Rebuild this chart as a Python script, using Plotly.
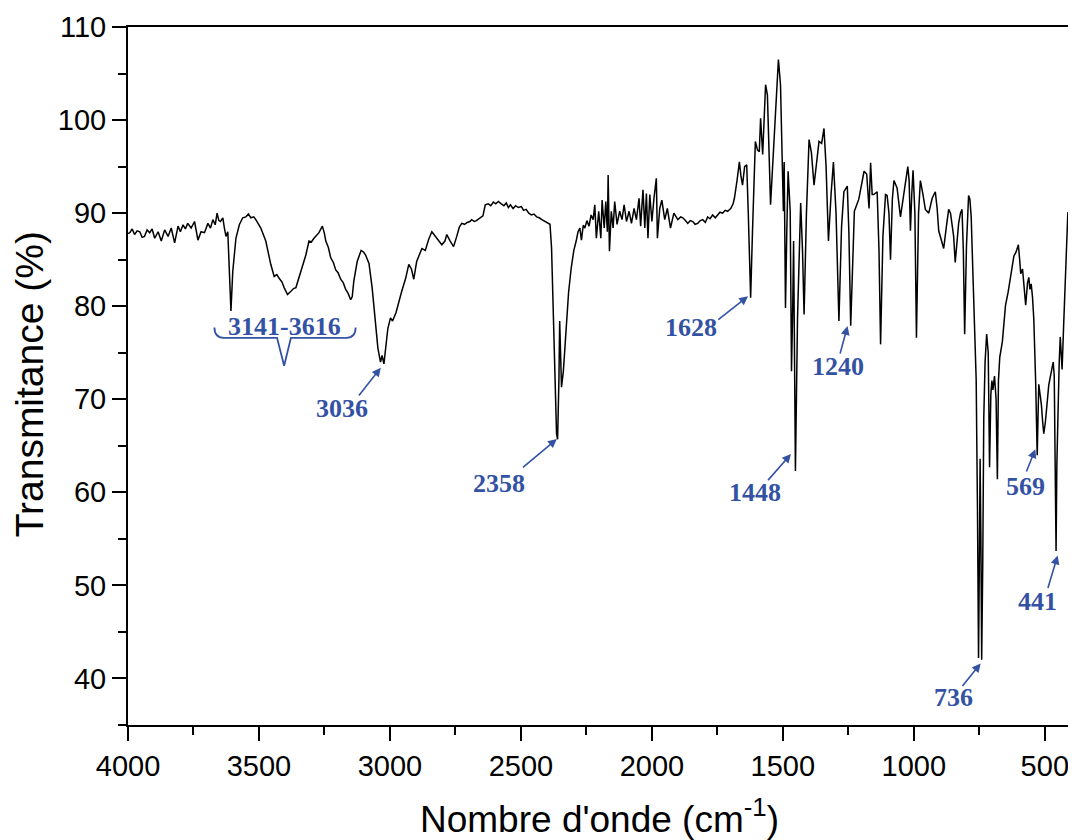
import plotly.graph_objects as go

# ---------------- data ----------------
wavenumber = [
    4000, 3993, 3984, 3975, 3965, 3955, 3946, 3937, 3927, 3917,
    3908, 3898, 3885, 3873, 3860, 3847, 3835, 3822, 3809, 3800,
    3790, 3781, 3772, 3759, 3746, 3733, 3721, 3708, 3695, 3685,
    3676, 3667, 3660, 3653, 3647, 3638, 3632, 3626, 3619, 3613,
    3607, 3600, 3588, 3575, 3562, 3550, 3540, 3531, 3520, 3512,
    3502, 3493, 3474, 3455, 3442, 3432, 3423, 3412, 3404, 3391,
    3378, 3368, 3359, 3350, 3340, 3330, 3321, 3309, 3300, 3290,
    3281, 3271, 3258, 3250, 3245, 3235, 3226, 3216, 3207, 3198,
    3188, 3178, 3169, 3160, 3150, 3144, 3138, 3125, 3110, 3100,
    3093, 3080, 3068, 3055, 3046, 3036, 3030, 3023, 3016, 3008,
    2998, 2990, 2977, 2966, 2955, 2940, 2928, 2918, 2909, 2898,
    2888, 2878, 2865, 2852, 2840, 2830, 2821, 2810, 2802, 2790,
    2783, 2770, 2757, 2745, 2735, 2726, 2715, 2705, 2695, 2688,
    2678, 2670, 2655, 2645, 2636, 2625, 2615, 2605, 2596, 2586,
    2575, 2565, 2556, 2548, 2540, 2530, 2520, 2510, 2498, 2490,
    2480, 2470, 2460, 2450, 2440, 2430, 2420, 2408, 2395, 2389,
    2383, 2376, 2370, 2364, 2360, 2357, 2355, 2352, 2348, 2345,
    2338, 2327, 2318, 2308, 2298, 2289, 2282, 2275, 2269, 2262,
    2256, 2248, 2240, 2232, 2224, 2218, 2212, 2203, 2195, 2190,
    2182, 2176, 2170, 2167, 2162, 2155, 2148, 2142, 2133, 2123,
    2114, 2106, 2097, 2087, 2078, 2068, 2059, 2049, 2043, 2034,
    2027, 2021, 2015, 2008, 2000, 1992, 1983, 1979, 1970, 1962,
    1951, 1941, 1929, 1916, 1901, 1890, 1882, 1872, 1863, 1853,
    1844, 1835, 1825, 1815, 1806, 1796, 1787, 1778, 1768, 1758,
    1749, 1740, 1730, 1720, 1711, 1699, 1690, 1685, 1675, 1666,
    1660, 1654, 1646, 1638, 1632, 1623, 1616, 1609, 1605, 1597,
    1590, 1585, 1577, 1566, 1563, 1559, 1547, 1540, 1533, 1525,
    1517, 1509, 1502, 1498, 1495, 1490, 1485, 1480, 1472, 1467,
    1462, 1459, 1452, 1444, 1432, 1425, 1419, 1410, 1400, 1391,
    1381, 1370, 1362, 1352, 1343, 1335, 1326, 1316, 1307, 1297,
    1286, 1276, 1267, 1254, 1248, 1241, 1234, 1227, 1210, 1200,
    1190, 1180, 1171, 1165, 1159, 1153, 1140, 1133, 1127, 1118,
    1108, 1102, 1095, 1089, 1082, 1076, 1064, 1051, 1038, 1023,
    1018, 1013, 1008, 1003, 996, 990, 982, 975, 965, 956,
    943, 930, 918, 911, 905, 895, 886, 876, 867, 860,
    854, 848, 842, 835, 829, 822, 816, 811, 806, 799,
    791, 786, 781, 775, 770, 765, 762, 757, 753, 750,
    747, 744, 741, 737, 733, 728, 722, 716, 711, 706,
    702, 698, 692, 686, 681, 677, 672, 662, 650, 640,
    631, 625, 618, 610, 601, 596, 592, 585, 578, 573,
    566, 561, 557, 552, 547, 542, 535, 529, 526, 523,
    518, 513, 508, 504, 498, 491, 485, 479, 473, 468,
    464, 461, 457, 454, 449, 445, 441, 437, 434, 428,
    422, 416, 412, 407, 403, 401,
]

transmittance = [
    87.8, 87.9, 88.3, 87.7, 88.1, 88.0, 87.4, 87.5, 88.2, 87.9,
    88.3, 87.3, 88.0, 87.0, 88.2, 87.5, 88.4, 86.8, 88.6, 88.0,
    88.75, 88.3, 88.9, 88.4, 89.1, 87.1, 88.0, 87.9, 88.9, 88.4,
    89.3, 88.75, 90.0, 89.2, 89.1, 89.5, 88.4, 87.5, 88.0, 84.5,
    79.5, 83.75, 87.3, 88.75, 89.5, 89.6, 89.9, 89.5, 89.6, 89.3,
    88.9, 88.4, 87.0, 84.5, 83.2, 83.4, 83.0, 82.6, 82.0, 81.25,
    81.6, 81.9, 82.0, 82.8, 83.75, 84.6, 85.5, 87.0, 86.9, 87.3,
    87.6, 87.9, 88.6, 87.8, 87.0, 86.3, 85.2, 84.7, 83.9, 83.6,
    82.9, 82.5, 81.8, 81.4, 80.7, 81.0, 82.7, 84.8, 86.0, 85.8,
    85.5, 84.6, 82.0, 78.4, 75.5, 74.0, 74.7, 73.8, 75.5, 77.6,
    78.75, 78.4, 79.3, 80.5, 81.6, 83.0, 84.5, 84.0, 82.9, 84.8,
    85.6, 86.2, 86.0, 87.2, 88.0, 87.6, 87.3, 86.9, 86.6, 87.0,
    87.7, 87.0, 86.4, 87.5, 88.5, 88.9, 88.8, 89.0, 89.1, 89.3,
    89.1, 89.2, 89.5, 89.7, 90.9, 91.0, 90.8, 91.2, 91.0, 91.25,
    91.0, 90.8, 91.1, 90.6, 90.9, 90.5, 90.8, 90.6, 90.7, 90.3,
    90.4, 90.0, 89.8, 89.9, 89.6, 89.5, 89.3, 89.1, 88.9, 88.8,
    86.25, 79.1, 70.2, 66.3, 65.7, 68.5, 72.0, 78.4, 72.5, 71.3,
    73.0, 78.4, 81.5, 84.1, 86.0, 87.0, 88.0, 88.4, 87.1, 88.7,
    88.4, 89.2, 88.6, 89.8, 89.3, 90.9, 87.3, 90.2, 87.3, 91.4,
    88.4, 91.25, 88.0, 94.1, 85.9, 90.2, 88.4, 91.25, 88.8, 90.2,
    89.3, 90.9, 89.1, 90.2, 88.9, 90.5, 89.3, 91.6, 88.6, 92.5,
    88.4, 92.1, 87.3, 92.0, 89.1, 91.6, 93.75, 87.3, 90.5, 91.4,
    89.3, 90.5, 88.4, 90.0, 89.3, 89.6, 89.5, 89.2, 88.9, 89.2,
    89.1, 88.8, 88.9, 89.2, 89.3, 89.0, 89.6, 89.4, 89.8, 89.5,
    89.8, 90.1, 90.0, 90.3, 90.2, 90.5, 91.0, 91.6, 93.5, 95.5,
    94.0, 93.0, 95.0, 95.2, 90.0, 80.9, 88.0, 93.0, 97.7, 96.8,
    96.6, 100.2, 96.3, 103.8, 103.0, 102.7, 90.9, 94.5, 98.4, 103.0,
    106.5, 103.8, 95.0, 90.2, 95.5, 79.8, 88.0, 94.5, 90.2, 73.0,
    80.5, 87.0, 62.3, 78.75, 91.1, 86.0, 79.1, 90.0, 97.9, 96.5,
    93.0, 95.5, 97.7, 97.5, 99.1, 95.0, 87.0, 92.0, 95.5, 90.0,
    78.4, 88.5, 92.3, 92.9, 88.0, 77.9, 85.0, 90.2, 91.5, 93.0,
    94.5, 94.2, 90.5, 95.4, 92.0, 92.0, 92.3, 86.0, 75.9, 87.5,
    92.0, 91.9, 90.0, 85.0, 91.5, 93.5, 92.7, 89.6, 92.3, 95.0,
    93.5, 88.1, 92.0, 94.6, 90.0, 76.6, 90.0, 93.5, 92.0, 90.4,
    90.0, 91.6, 92.3, 90.5, 88.1, 87.0, 86.2, 88.5, 90.4, 90.0,
    88.9, 87.5, 84.7, 87.0, 88.9, 90.0, 90.4, 86.0, 77.0, 86.5,
    91.9, 91.5, 89.6, 84.0, 79.4, 75.0, 72.1, 58.0, 42.2, 52.0,
    63.6, 55.0, 42.0, 52.0, 68.0, 74.0, 77.0, 75.0, 62.7, 70.5,
    72.0, 71.0, 72.5, 70.0, 61.4, 72.0, 74.5, 76.2, 80.1, 81.5,
    83.1, 84.2, 85.4, 85.8, 86.6, 85.0, 83.5, 84.0, 82.0, 80.1,
    82.5, 83.1, 81.8, 82.4, 81.0, 78.6, 72.0, 64.0, 68.0, 71.6,
    70.5, 69.4, 67.5, 66.3, 67.5, 70.1, 71.5, 72.4, 73.5, 74.0,
    72.5, 64.0, 53.7, 63.0, 70.9, 74.0, 76.7, 74.5, 73.2, 78.0,
    82.4, 87.0, 90.1, 89.5, 88.5, 89.0,
]

# peak labels: text, text position (wavenumber, %T), arrow head, arrow tail
peak_labels = ["3036", "2358", "1628", "1448", "1240", "736", "569", "441"]
label_pos = [(3183, 68.96), (2585, 60.93), (1850, 77.75), (1608, 59.96),
             (1291, 73.57), (849, 38.0), (575, 60.61), (526, 48.29)]
arrow_head = [(3035, 73.39), (2363, 65.72), (1633, 81.07), (1469, 64.11),
              (1253, 77.86), (745, 41.61), (536, 64.64), (451, 53.21)]
arrow_tail = [(3126, 70.14), (2500, 62.5), (1754, 78.39), (1564, 61.07),
              (1284, 74.64), (822, 38.93), (574, 61.97), (491, 49.46)]

range_label = "3141-3616"
range_label_pos = (3402, 77.86)

x_ticks = [4000, 3500, 3000, 2500, 2000, 1500, 1000, 500]
y_ticks = [40, 50, 60, 70, 80, 90, 100, 110]

BLUE = "#3452a4"
SERIF = "Liberation Serif, Times New Roman, serif"
SANS = "Liberation Sans, Arial, sans-serif"

# ---------------- figure ----------------
fig = go.Figure()
fig.add_trace(go.Scatter(
    x=wavenumber, y=transmittance, mode="lines",
    line=dict(color="black", width=1.5), showlegend=False, hoverinfo="skip",
))

annotations = []
for txt, (tx, ty), (hx, hy), (ax, ay) in zip(peak_labels, label_pos, arrow_head, arrow_tail):
    annotations.append(dict(
        x=hx, y=hy, ax=ax, ay=ay, xref="x", yref="y", axref="x", ayref="y",
        showarrow=True, arrowhead=2, arrowsize=1.1, arrowwidth=1.6,
        arrowcolor=BLUE, standoff=0, startstandoff=0, text=" ",
        font=dict(size=2),
    ))
    annotations.append(dict(
        x=tx, y=ty, xref="x", yref="y", showarrow=False,
        text="<b>" + txt + "</b>",
        font=dict(family=SERIF, size=26, color=BLUE),
        xanchor="center", yanchor="middle",
    ))

annotations.append(dict(
    x=range_label_pos[0], y=range_label_pos[1], xref="x", yref="y", showarrow=False,
    text="<b>" + range_label + "</b>",
    font=dict(family=SERIF, size=26, color=BLUE),
    xanchor="center", yanchor="middle",
))

annotations.append(dict(
    x=0.5, y=-0.131, xref="paper", yref="paper", showarrow=False,
    text="Nombre d'onde (cm<sup>-1</sup>)",
    font=dict(family=SANS, size=37, color="black"),
    xanchor="center", yanchor="middle",
))
annotations.append(dict(
    x=-0.105, y=0.488, xref="paper", yref="paper", showarrow=False,
    text="Transmitance (%)", textangle=-90,
    font=dict(family=SANS, size=39, color="black"),
    xanchor="center", yanchor="middle",
))

# curly brace under the 3141-3616 label (data coordinates)
bx_left, bx_right, bx_mid = 3670, 3131, 3404
by_top, by_line, by_tip = 77.7, 76.6, 73.6
brace_path = (
    f"M {bx_left},{by_top} Q {bx_left},{by_line} {bx_left-35},{by_line} "
    f"L {bx_mid+27},{by_line} L {bx_mid},{by_tip} L {bx_mid-26},{by_line} "
    f"L {bx_right+35},{by_line} Q {bx_right},{by_line} {bx_right},{by_top}"
)

# page body has an 8px margin, so the figure is sized to fit the 1076x840 window
fig.update_layout(
    width=1068, height=832,
    margin=dict(l=120, r=3, t=17, b=115),
    paper_bgcolor="white", plot_bgcolor="white",
    annotations=annotations,
    shapes=[dict(type="path", path=brace_path, xref="x", yref="y",
                 line=dict(color=BLUE, width=1.8))],
    font=dict(family=SANS, color="black"),
)

fig.update_xaxes(
    range=[4000, 400], tickmode="array", tickvals=x_ticks,
    ticks="outside", ticklen=14, tickwidth=2, tickcolor="black",
    minor=dict(ticks="outside", ticklen=8, tickwidth=2, tickcolor="black", dtick=250, tick0=0),
    showline=True, linewidth=2, linecolor="black", mirror=True,
    showgrid=False, zeroline=False,
    tickfont=dict(family=SANS, size=29, color="black"),
)
fig.update_yaxes(
    range=[35, 110], tickmode="array", tickvals=y_ticks,
    ticks="outside", ticklen=14, tickwidth=2, tickcolor="black",
    minor=dict(ticks="outside", ticklen=8, tickwidth=2, tickcolor="black", dtick=5, tick0=0),
    showline=True, linewidth=2, linecolor="black", mirror=True,
    showgrid=False, zeroline=False,
    tickfont=dict(family=SANS, size=29, color="black"),
)

assert len(wavenumber) == len(transmittance)
fig.write_html("out.html")
